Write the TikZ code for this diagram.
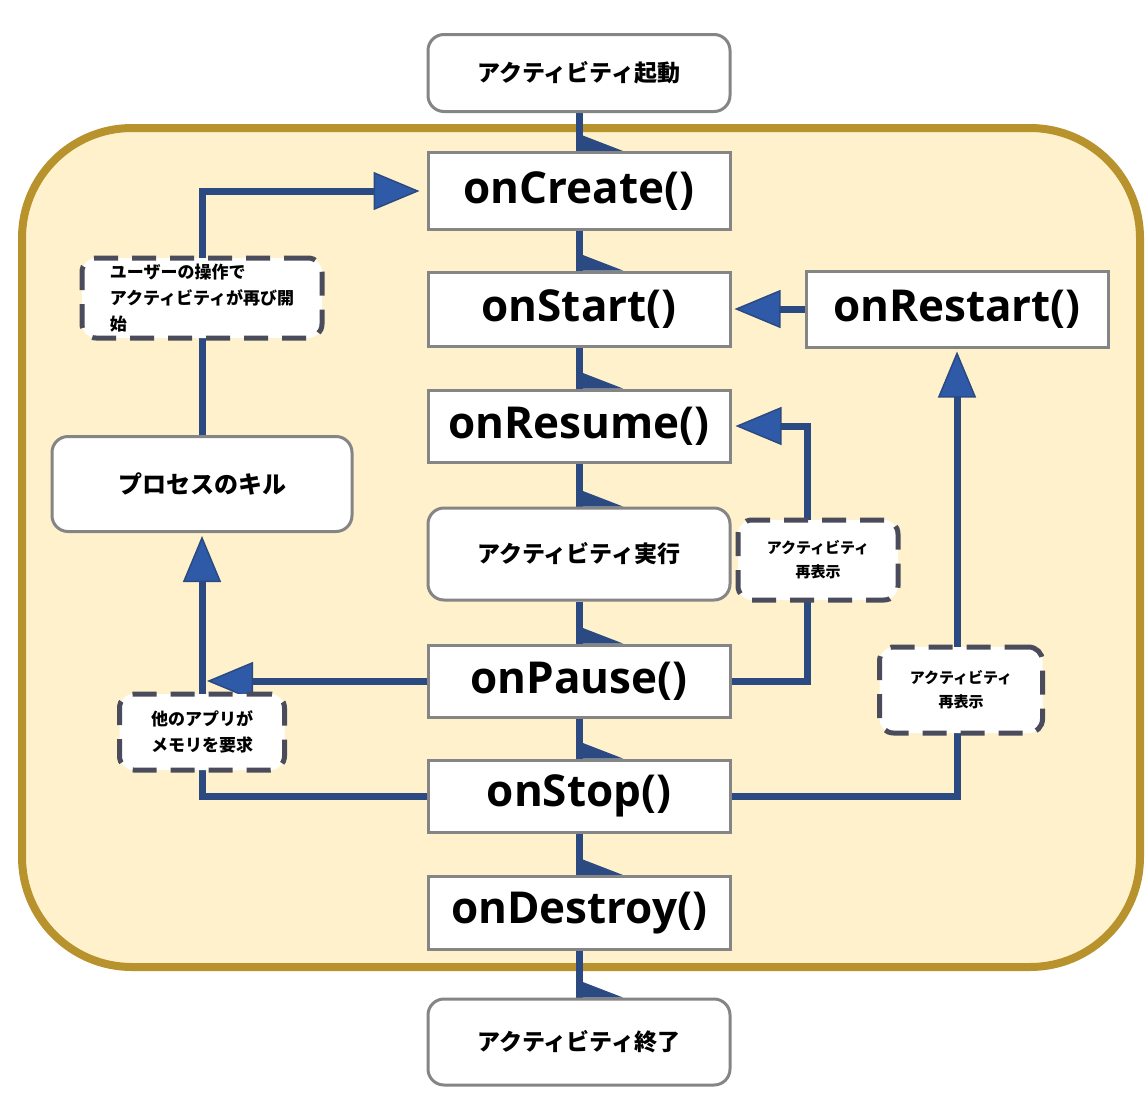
\documentclass[tikz,border=0pt]{standalone}
\usepackage{fontspec}
\setmainfont{Open Sans}
\newfontfamily\jp{Noto Sans CJK JP}
\usetikzlibrary{arrows.meta}
\pgfdeclarelayer{back}
\pgfdeclarelayer{mid}
\pgfsetlayers{back,mid,main}

\definecolor{gold}{HTML}{B8922C}
\definecolor{cream}{HTML}{FEF1CC}
\definecolor{flowline}{HTML}{2C4A82}
\definecolor{flowfill}{HTML}{2F5AA8}
\definecolor{boxline}{HTML}{858585}
\definecolor{dashline}{HTML}{4A4C5C}

\tikzset{
  box/.style={draw=boxline, line width=3pt, fill=white, inner sep=0pt,
    minimum width=302pt, font=\fontsize{44}{52}\selectfont\bfseries},
  rbox/.style={box, rounded corners=16pt, font=\jp\fontsize{23}{28}\selectfont\bfseries},
  note/.style={draw=dashline, line width=5pt, dash pattern=on 24pt off 14pt,
    fill=white, rounded corners=14pt, inner sep=0pt, align=center,
    font=\jp\fontsize{15}{24}\selectfont\bfseries},
  notebig/.style={note, font=\jp\fontsize{17}{26}\selectfont\bfseries},
  flow/.style={draw=flowline, line width=7pt},
  tip/.style={-{Triangle[length=46pt,width=38pt,line width=1.5pt,fill=flowfill]}},
}

\begin{document}
\begin{tikzpicture}[x=1pt,y=-1pt]
\useasboundingbox (0,0) rectangle (1148,1095);

% lifetime frame
\begin{pgfonlayer}{back}
  \fill[white] (0,0) rectangle (1148,1095);
  \draw[draw=gold, line width=8pt, fill=cream, rounded corners=110pt]
    (22,128) rectangle (1140,967);
\end{pgfonlayer}

% lifecycle states
\node[rbox, minimum height=77pt] (launch)  at (579,73)   {アクティビティ起動};
\node[box,  minimum height=77pt] (create)  at (579,191)  {onCreate()};
\node[box,  minimum height=74pt] (start)   at (579,309)  {onStart()};
\node[box,  minimum height=76pt] (restart) at (957,309)  {onRestart()};
\node[box,  minimum height=72pt] (resume)  at (579,426)  {onResume()};
\node[rbox, minimum height=92pt] (run)     at (579,554)  {アクティビティ実行};
\node[box,  minimum height=72pt] (pause)   at (579,681)  {onPause()};
\node[box,  minimum height=72pt] (stop)    at (579,796)  {onStop()};
\node[box,  minimum height=73pt] (destroy) at (579,913)  {onDestroy()};
\node[rbox, minimum height=86pt] (finish)  at (579,1042) {アクティビティ終了};
\node[rbox, minimum width=300pt, minimum height=95pt,
      font=\jp\fontsize{24}{28}\selectfont\bfseries] (kill) at (202,484) {プロセスのキル};

% transition notes
\node[notebig, align=left, minimum width=240pt, minimum height=80pt] (user) at (202,298)
  {ユーザーの操作で\\アクティビティが再び開\\始};
\node[note, minimum width=160pt, minimum height=80pt] (reshowA) at (818,560)
  {アクティビティ\\再表示};
\node[notebig, minimum width=165pt, minimum height=76pt] (memory) at (202,732)
  {他のアプリが\\メモリを要求};
\node[note, minimum width=163pt, minimum height=86pt] (reshowB) at (961,690)
  {アクティビティ\\再表示};

% connectors
\begin{pgfonlayer}{mid}
  \foreach \a/\b in {launch/create,create/start,start/resume,resume/run,
                     run/pause,pause/stop,stop/destroy,destroy/finish}{
    \draw[flow] (\a.south) -- (\b.north);
    \fill[flowline] (\b.north) -- ++(0,-17) -- ++(44,17) -- cycle;
  }
  \draw[flow, tip, shorten >=7pt] (kill.north) |- (create.west);
  \draw[flow, tip, shorten >=3pt] (stop.west) -| (kill.south);
  \draw[flow, tip, shorten >=5pt] (pause.west) -- (pause.west -| kill.south);
  \draw[flow, tip, shorten >=4pt] (pause.east) -- ++(76,0) |- (resume.east);
  \draw[flow, tip, shorten >=3pt] (stop.east) -| (restart.south);
  \draw[flow, tip, shorten >=3pt] (restart.west) -- (start.east);
\end{pgfonlayer}
\end{tikzpicture}
\end{document}
